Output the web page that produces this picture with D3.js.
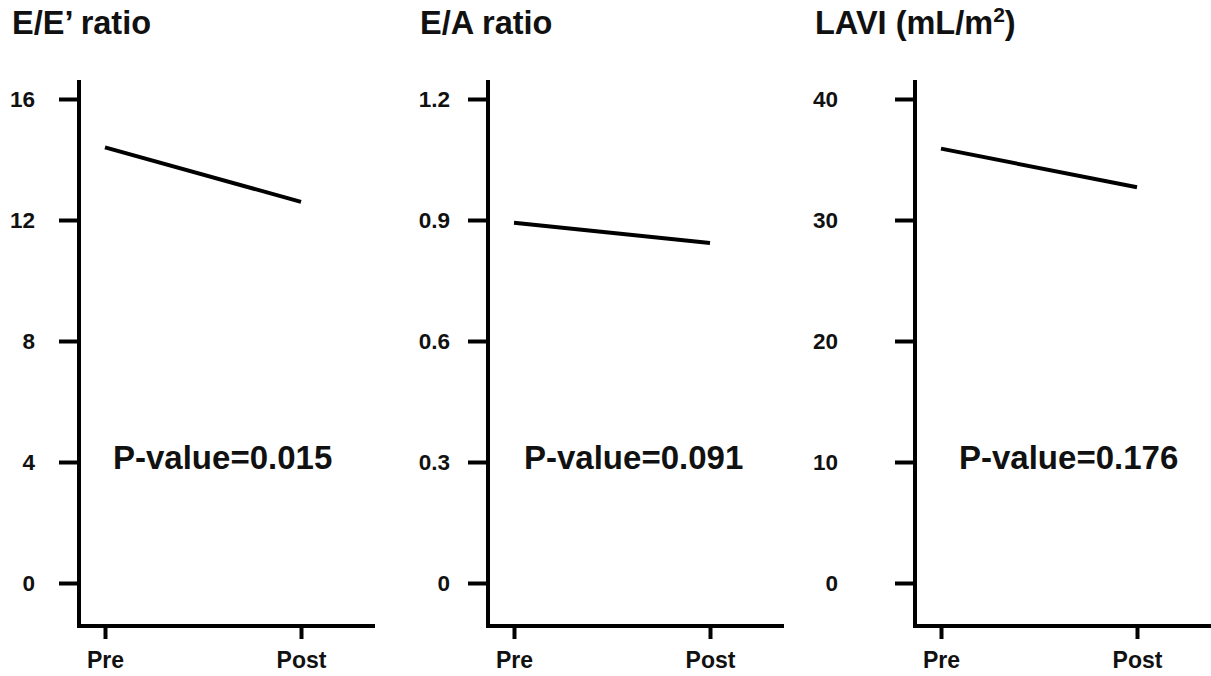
<!DOCTYPE html>
<html>
<head>
<meta charset="utf-8">
<script src="https://cdn.jsdelivr.net/npm/d3@7"></script>
<style>
  html, body { margin: 0; padding: 0; background: #fff; }
  svg { display: block; font-family: "Liberation Sans", Arial, sans-serif; font-weight: bold; }
</style>
</head>
<body>
<svg id="chart" width="1211" height="676"></svg>
<script>
// ---- data ----
const timepoints = ["Pre", "Post"];
const titles = ["E/E\u2019 ratio", "E/A ratio", "LAVI (mL/m"];
const titleSup = ["", "", "2"];
const titleTail = ["", "", ")"];
const eeRatio = [14.4, 12.6];
const eaRatio = [0.893, 0.843];
const lavi = [35.9, 32.7];
const eeTicks = [0, 4, 8, 12, 16];
const eaTicks = [0, 0.3, 0.6, 0.9, 1.2];
const laviTicks = [0, 10, 20, 30, 40];
const pValues = ["0.015", "0.091", "0.176"];

// ---- layout ----
const panels = [
  { ti: 0, values: eeRatio, ticks: eeTicks, p: pValues[0], axisX: 79, titleX: 12, pX: 113, tickPad: 24 },
  { ti: 1, values: eaRatio, ticks: eaTicks, p: pValues[1], axisX: 488, titleX: 420, pX: 524, tickPad: 18 },
  { ti: 2, values: lavi, ticks: laviTicks, p: pValues[2], axisX: 915, titleX: 815, pX: 959, tickPad: 57 }
];
const yZero = 583, yMax = 99, axisTop = 80, axisBottom = 626;
const svg = d3.select("#chart");

panels.forEach(pn => {
  const g = svg.append("g");
  const y = d3.scaleLinear().domain([0, d3.max(pn.ticks)]).range([yZero, yMax]);
  const x = d3.scalePoint().domain(timepoints).range([pn.axisX + 26, pn.axisX + 222]).padding(0);

  // title
  const t = g.append("text").attr("x", pn.titleX).attr("y", 34)
    .attr("font-size", 32.5).attr("fill", "#111");
  t.append("tspan").text(titles[pn.ti]);
  if (titleSup[pn.ti]) {
    t.append("tspan").attr("font-size", 21).attr("dy", -12).text(titleSup[pn.ti]);
    t.append("tspan").attr("dy", 12).text(titleTail[pn.ti]);
  }

  // y axis
  const yAxis = g.append("g").attr("transform", `translate(${pn.axisX},0)`)
    .call(d3.axisLeft(y).tickValues(pn.ticks).tickSize(20).tickSizeOuter(0).tickPadding(pn.tickPad)
      .tickFormat(d => d3.format("~g")(d)));
  yAxis.select(".domain").remove();
  yAxis.selectAll(".tick line").attr("stroke", "#000").attr("stroke-width", 4);
  yAxis.selectAll(".tick text").attr("font-size", 22.5).attr("font-family", "Liberation Sans, Arial, sans-serif")
    .attr("font-weight", "bold").attr("fill", "#111");
  g.append("line").attr("x1", pn.axisX).attr("x2", pn.axisX)
    .attr("y1", axisTop).attr("y2", axisBottom + 2).attr("stroke", "#000").attr("stroke-width", 4);

  // x axis
  const xAxis = g.append("g").attr("transform", `translate(0,${axisBottom})`)
    .call(d3.axisBottom(x).tickSize(13).tickSizeOuter(0).tickPadding(13));
  xAxis.select(".domain").remove();
  xAxis.selectAll(".tick line").attr("stroke", "#000").attr("stroke-width", 4);
  xAxis.selectAll(".tick text").attr("font-size", 23).attr("font-family", "Liberation Sans, Arial, sans-serif")
    .attr("font-weight", "bold").attr("fill", "#111");
  g.append("line").attr("x1", pn.axisX - 2).attr("x2", pn.axisX + 296)
    .attr("y1", axisBottom).attr("y2", axisBottom).attr("stroke", "#000").attr("stroke-width", 4);

  // data line
  const line = d3.line().x((d, i) => x(timepoints[i])).y(d => y(d));
  g.append("path").datum(pn.values).attr("d", line)
    .attr("fill", "none").attr("stroke", "#000").attr("stroke-width", 4);

  // p-value
  g.append("text").attr("x", pn.pX).attr("y", 469).attr("font-size", 33).attr("fill", "#111")
    .text("P-value=" + pn.p);
});
</script>
</body>
</html>
